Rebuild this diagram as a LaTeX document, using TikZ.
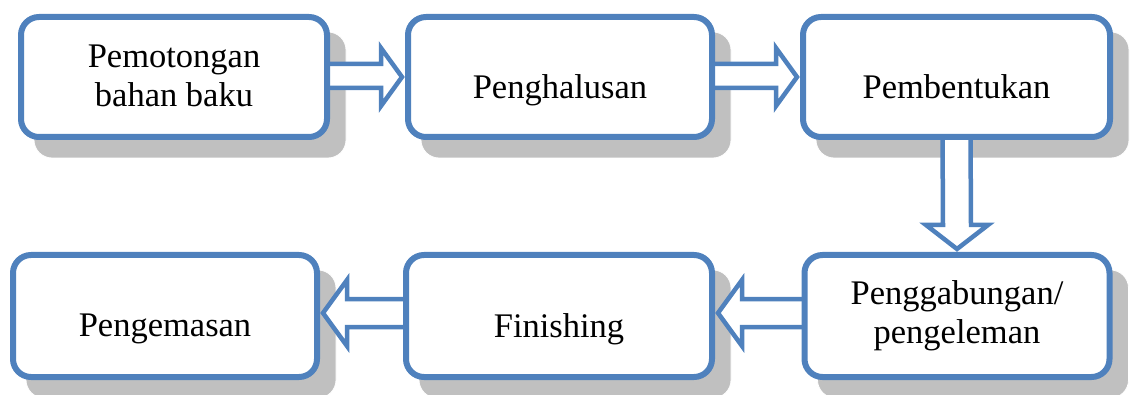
\documentclass[tikz,border=0pt]{standalone}
\usepackage{fontspec}
\setmainfont{Liberation Serif}
\usetikzlibrary{calc}
\definecolor{bblue}{HTML}{4F81BD}
\definecolor{shgray}{HTML}{C0C0C0}
\pgfdeclarelayer{shadowlayer}
\pgfdeclarelayer{arrowlayer}
\pgfsetlayers{shadowlayer,arrowlayer,main}
\begin{document}
\begin{tikzpicture}[x=1pt,y=1pt,
  box/.style={draw=bblue, line width=6pt, fill=white, rounded corners=18pt, inner sep=0pt},
  lbl/.style={align=center, font=\fontsize{34.5}{39}\selectfont, inner sep=0pt},
  shadowbox/.style={draw=white, line width=0.8pt, fill=shgray, rounded corners=18pt},
  blockarrow/.style={draw=bblue, line width=4.5pt, fill=white, line join=miter}]
\useasboundingbox (0,0) rectangle (1130,394);

\node[box, minimum width=306pt, minimum height=120pt] (b1) at (174,317) {};
\node[box, minimum width=304pt, minimum height=120pt] (b2) at (560,317) {};
\node[box, minimum width=307pt, minimum height=120pt] (b3) at (956.5,317) {};
\node[box, minimum width=305pt, minimum height=122pt] (b4) at (957,78) {};
\node[box, minimum width=306pt, minimum height=122pt] (b5) at (559,78) {};
\node[box, minimum width=304pt, minimum height=122pt] (b6) at (165,78) {};

\node[lbl] (t1) at ($(b1.center)+(0,1)$) {Pemotongan\\bahan baku};
\node[lbl] (t2) at ($(b2.center)+(0,-13)$) {Penghalusan};
\node[lbl] (t3) at ($(b3.center)+(0,-10)$) {Pembentukan};
\node[lbl] (t4) at ($(b4.center)+(0,0)$) {Penggabungan/\\pengeleman};
\node[lbl] (t5) at ($(b5.center)+(0,-13)$) {Finishing};
\node[lbl] (t6) at ($(b6.center)+(0,-13)$) {Pengemasan};

\begin{pgfonlayer}{shadowlayer}
  \foreach \b in {b1,b2,b3,b4,b5,b6}{
    \draw[shadowbox] ($(\b.south west)+(16,-18)$) rectangle ($(\b.north east)+(16,-18)$);
  }
\end{pgfonlayer}

\begin{pgfonlayer}{arrowlayer}
  % right arrows
  \draw[blockarrow] ($(b1.east)+(-4,13)$) -- ($(b2.west)+(-24,13)$) -- ($(b2.west)+(-24,29)$)
    -- ($(b2.west)+(-3,0)$) -- ($(b2.west)+(-24,-29)$) -- ($(b2.west)+(-24,-11)$) -- ($(b1.east)+(-4,-11)$);
  \draw[blockarrow] ($(b2.east)+(-4,13)$) -- ($(b3.west)+(-24,13)$) -- ($(b3.west)+(-24,29)$)
    -- ($(b3.west)+(-3,0)$) -- ($(b3.west)+(-24,-29)$) -- ($(b3.west)+(-24,-11)$) -- ($(b2.east)+(-4,-11)$);
  % down arrow
  \draw[blockarrow] ($(b3.south)+(-14,4)$) -- ($(b4.north)+(-14,27)$) -- ($(b4.north)+(-31,27)$)
    -- ($(b4.north)+(0,3)$) -- ($(b4.north)+(31,27)$) -- ($(b4.north)+(14,27)$) -- ($(b3.south)+(14,4)$);
  % left arrows
  \draw[blockarrow] ($(b4.west)+(4,17)$) -- ($(b5.east)+(27,17)$) -- ($(b5.east)+(27,36)$)
    -- ($(b5.east)+(3,3)$) -- ($(b5.east)+(27,-30)$) -- ($(b5.east)+(27,-11)$) -- ($(b4.west)+(4,-11)$);
  \draw[blockarrow] ($(b5.west)+(4,17)$) -- ($(b6.east)+(27,17)$) -- ($(b6.east)+(27,36)$)
    -- ($(b6.east)+(3,3)$) -- ($(b6.east)+(27,-30)$) -- ($(b6.east)+(27,-11)$) -- ($(b5.west)+(4,-11)$);
\end{pgfonlayer}
\end{tikzpicture}
\end{document}
